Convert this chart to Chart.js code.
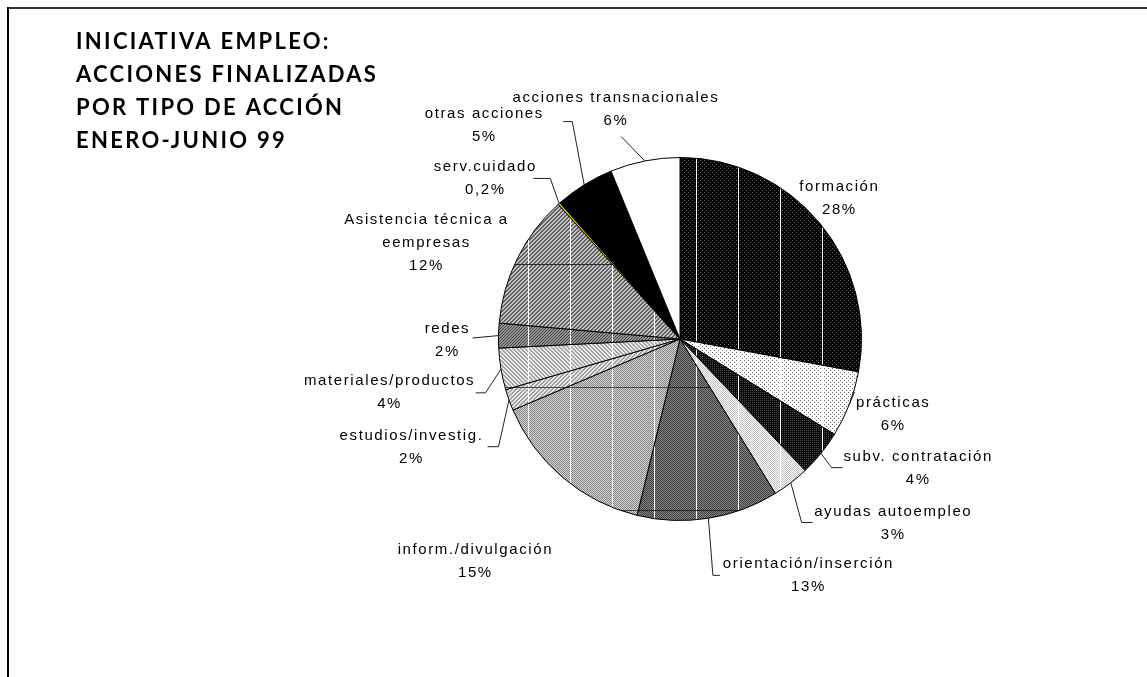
<!DOCTYPE html>
<html>
<head>
<meta charset="utf-8">
<script src="https://cdn.jsdelivr.net/npm/chart.js@4"></script>
<style>
html, body { margin: 0; padding: 0; background: #fff; }
#wrap { width: 1147px; height: 677px; }
</style>
</head>
<body>
<div id="wrap"><canvas id="canvas1" width="1147" height="677"></canvas></div>
<script>
// data (per cent of actions finished)
var categories = ['formación', 'prácticas', 'subv. contratación', 'ayudas autoempleo',
	'orientación/inserción', 'inform./divulgación', 'estudios/investig.', 'materiales/productos',
	'redes', 'Asistencia técnica a eempresas', 'serv.cuidado', 'otras acciones', 'acciones transnacionales'];
var shares = [27.9, 5.9, 4.1, 3.3, 12.6, 14.8, 1.9, 3.7, 2.2, 11.9, 0.2, 5.3, 6.2];
var labelLines = [['formación'], ['prácticas'], ['subv. contratación'], ['ayudas autoempleo'],
	['orientación/inserción'], ['inform./divulgación'], ['estudios/investig.'], ['materiales/productos'],
	['redes'], ['Asistencia técnica a', 'eempresas'], ['serv.cuidado'], ['otras acciones'], ['acciones transnacionales']];
var titleLines = ['INICIATIVA EMPLEO:', 'ACCIONES FINALIZADAS', 'POR TIPO DE ACCIÓN', 'ENERO-JUNIO 99'];

// label placement, relative to pie centre, for a radius of 182px
var labelLayout = [
	{ t: [159, -141] },
	{ t: [213, 76], l: [[175, 53]] },
	{ t: [238, 130], l: [[152, 129], [163, 129]] },
	{ t: [213, 185], l: [[122, 184], [133, 184]] },
	{ t: [128, 237], l: [[33, 237], [40, 237]] },
	{ t: [-206, 223] },
	{ t: [-270, 109], l: [[-182, 108], [-193, 108]] },
	{ t: [-292, 54], l: [[-195, 54], [-205, 54]] },
	{ t: [-234, 1], l: [[-208, -1]] },
	{ t: [-255, -96] },
	{ t: [-196, -161], l: [[-130, -161], [-147, -161]] },
	{ t: [-197, -214], l: [[-108, -218], [-117, -218]] },
	{ t: [-65, -230], l: [[-59, -203]] }
];

var canvas = document.getElementById('canvas1');
var ctx = canvas.getContext('2d');
var W = canvas.width, H = canvas.height;

// grey textures like the scanned original, white columns every 42px
function texture(fn, hline) {
	var c = document.createElement('canvas');
	c.width = W; c.height = H;
	var g = c.getContext('2d');
	var img = g.createImageData(W, H);
	var d = img.data;
	for (var y = 0; y < H; y++) {
		for (var x = 0; x < W; x++) {
			var v = fn(x, y);
			if ((x - 24) % 42 === 0) v = 255;
			if (hline && y % 123 === 18) v = hline;
			var i = (y * W + x) * 4;
			d[i] = d[i + 1] = d[i + 2] = v;
			d[i + 3] = 255;
		}
	}
	g.putImageData(img, 0, 0);
	return ctx.createPattern(c, 'no-repeat');
}
function dots(x, y) { return (x % 4 === 0 && y % 4 === 0) || (x % 4 === 2 && y % 4 === 2); }

var fills = [
	texture(function (x, y) { return dots(x, y) ? 105 : 0; }),
	texture(function (x, y) { return dots(x, y) ? 110 : 255; }),
	texture(function (x, y) { return ((x + y) % 2 === 0 && y % 2 === 0) ? 75 : 8; }),
	texture(function (x, y) { return (x + y) % 2 === 0 ? 195 : 250; }),
	texture(function (x, y) { return (x + y) % 2 === 0 ? 65 : 130; }, 40),
	texture(function (x, y) { return (x + y) % 2 === 0 ? 135 : 210; }, 70),
	texture(function (x, y) { return (x + y) % 4 < 2 ? 160 : 230; }, 70),
	texture(function (x, y) { return (x - y + 4000) % 4 < 2 ? 165 : 232; }, 70),
	texture(function (x, y) { return (x + y) % 3 === 0 ? 60 : 150; }),
	texture(function (x, y) { return (x + y) % 4 < 2 ? 95 : 195; }, 40),
	'#d8cf00',
	'#000000',
	'#ffffff'
];

function pctText(v) {
	if (v < 1) return v.toFixed(1).replace('.', ',') + '%';
	return Math.round(v) + '%';
}

var framePlugin = {
	id: 'frame',
	beforeDraw: function (chart) {
		var c = chart.ctx;
		c.save();
		c.fillStyle = '#fff';
		c.fillRect(0, 0, W, H);
		c.fillStyle = '#333';
		c.fillRect(7, 7, W - 7, 2);
		c.fillStyle = '#000';
		c.fillRect(7, 7, 2, H - 7);
		c.restore();
	},
	afterDraw: function (chart) {
		var c = chart.ctx;
		c.save();
		c.fillStyle = '#000';
		c.font = 'bold 22px Lato, "Open Sans", sans-serif';
		c.letterSpacing = '2.3px';
		c.textAlign = 'left';
		c.textBaseline = 'alphabetic';
		titleLines.forEach(function (s, i) {
			c.fillText(s, 76, 49 + i * 33);
		});
		c.restore();
	}
};

var labelPlugin = {
	id: 'sliceLabels',
	afterDatasetsDraw: function (chart) {
		var c = chart.ctx;
		var arcs = chart.getDatasetMeta(0).data;
		c.save();
		c.font = '15px "Liberation Sans", Arial, sans-serif';
		c.letterSpacing = '1.6px';
		c.textAlign = 'center';
		c.textBaseline = 'middle';
		c.fillStyle = '#000';
		c.strokeStyle = '#222';
		c.lineWidth = 1;
		arcs.forEach(function (arc, i) {
			var p = arc.getProps(['x', 'y', 'startAngle', 'endAngle', 'outerRadius'], true);
			var s = p.outerRadius / 182;
			var lay = labelLayout[i];
			if (lay.l) {
				var mid = (p.startAngle + p.endAngle) / 2;
				c.beginPath();
				c.moveTo(p.x + Math.cos(mid) * p.outerRadius, p.y + Math.sin(mid) * p.outerRadius);
				lay.l.forEach(function (pt) {
					c.lineTo(p.x + pt[0] * s, p.y + pt[1] * s);
				});
				c.stroke();
			}
			var lines = labelLines[i].concat([pctText(shares[i])]);
			var cx = p.x + lay.t[0] * s + 0.8;
			var cy = p.y + lay.t[1] * s - (lines.length - 1) * 23 / 2;
			lines.forEach(function (txt, k) {
				c.fillText(txt, cx, cy + k * 23);
			});
		});
		c.restore();
	}
};

new Chart(ctx, {
	type: 'pie',
	data: {
		labels: categories,
		datasets: [{
			data: shares,
			backgroundColor: fills,
			borderColor: '#000',
			borderWidth: 1
		}]
	},
	options: {
		responsive: false,
		animation: false,
		layout: { padding: { left: 498, right: 285, top: 157, bottom: 156 } },
		plugins: {
			legend: { display: false },
			tooltip: { enabled: false },
			title: { display: false }
		}
	},
	plugins: [framePlugin, labelPlugin]
});
</script>
</body>
</html>
